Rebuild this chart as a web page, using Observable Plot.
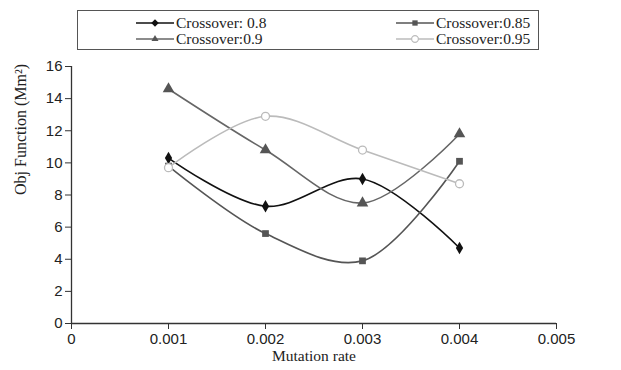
<!DOCTYPE html>
<html>
<head>
<meta charset="utf-8">
<script src="https://cdn.jsdelivr.net/npm/d3@7"></script>
<script src="https://cdn.jsdelivr.net/npm/@observablehq/plot@0.6"></script>
<style>
  body { margin: 0; background: #fff; }
  #wrap { position: relative; width: 621px; height: 370px; }
  #legend { position: absolute; left: 77px; top: 10px; width: 460px; height: 38px;
            border: 1.5px solid #555; font-family: "Liberation Serif", "Times New Roman", serif;
            font-size: 15.5px; color: #222; box-sizing: content-box; }
  .item { position: absolute; display: flex; align-items: center; height: 15px; line-height: 15px; }
  .item svg { margin-right: 2px; }
</style>
</head>
<body>
<div id="wrap">
  <div id="legend"></div>
</div>
<script>
const mutationRates = [0.001, 0.002, 0.003, 0.004];
const seriesNames = ["Crossover: 0.8", "Crossover:0.85", "Crossover:0.9", "Crossover:0.95"];
const cross080 = [10.3, 7.3, 9.0, 4.7];
const cross085 = [9.8, 5.6, 3.9, 10.1];
const cross090 = [14.6, 10.8, 7.5, 11.8];
const cross095 = [9.7, 12.9, 10.8, 8.7];
const xTicks = [0, 0.001, 0.002, 0.003, 0.004, 0.005];
const yTicks = [0, 2, 4, 6, 8, 10, 12, 14, 16];

const seriesValues = [cross080, cross085, cross090, cross095];
const styles = [
  {stroke: "#111", symbol: "diamond", fill: "#111", r: 3.8},
  {stroke: "#555", symbol: "square", fill: "#555", r: 3.8},
  {stroke: "#666", symbol: "triangle", fill: "#555", r: 4.3},
  {stroke: "#bbb", symbol: "circle", fill: "#fff", r: 4}
];

const data = [];
seriesNames.forEach((s, i) => mutationRates.forEach((m, j) => data.push({series: s, idx: i, x: m, y: seriesValues[i][j]})));

const marks = [];
seriesNames.forEach((s, i) => {
  const d = data.filter(r => r.idx === i);
  marks.push(Plot.line(d, {x: "x", y: "y", curve: "catmull-rom", stroke: styles[i].stroke, strokeWidth: 1.6}));
});
seriesNames.forEach((s, i) => {
  const d = data.filter(r => r.idx === i);
  const st = styles[i];
  marks.push(Plot.dot(d, {x: "x", y: "y", symbol: () => st.symbol, r: st.r,
    fill: st.fill, stroke: st.symbol === "circle" ? st.stroke : "none", strokeWidth: 1.3}));
});

const plot = Plot.plot({
  width: 621,
  height: 370,
  marginLeft: 71,
  marginRight: 65,
  marginTop: 66,
  marginBottom: 47,
  style: {fontFamily: "Liberation Sans, Arial, sans-serif", fontSize: "15px", color: "#222", background: "#fff"},
  x: {domain: [0, 0.005]},
  y: {domain: [0, 16]},
  marks: [
    Plot.axisX({ticks: xTicks, tickFormat: d => d === 0 ? "0" : d.toFixed(3), tickSize: 6, tickPadding: 4,
      label: null, fontSize: 15, stroke: "#333"}),
    Plot.axisY({ticks: yTicks, tickSize: 6, tickPadding: 3, label: null, fontSize: 15, stroke: "#333"}),
    Plot.ruleY([0], {stroke: "#333", strokeWidth: 1.3}),
    Plot.ruleX([0], {stroke: "#333", strokeWidth: 1.3}),
    ...marks,
    Plot.text(["Mutation rate"], {frameAnchor: "bottom", dy: 37, fontFamily: "Liberation Serif, Times New Roman, serif", fontSize: 15.5, fill: "#222"}),
    Plot.text(["Obj Function (Mm²)"], {frameAnchor: "left", rotate: -90, dx: -51, fontFamily: "Liberation Serif, Times New Roman, serif", fontSize: 16, fill: "#222"})
  ]
});
document.getElementById("wrap").appendChild(plot);

// legend
const legend = document.getElementById("legend");
const legendPos = [[58, 4], [318, 4], [58, 20], [318, 20]];
seriesNames.forEach((s, i) => {
  const st = styles[i];
  const item = document.createElement("div");
  item.className = "item";
  item.style.left = legendPos[i][0] + "px";
  item.style.top = legendPos[i][1] + "px";
  const sym = d3.symbol(
    {diamond: d3.symbolDiamond2, square: d3.symbolSquare2, triangle: d3.symbolTriangle2, circle: d3.symbolCircle}[st.symbol],
    36)();
  item.innerHTML = `<svg width="38" height="12"><line x1="0" x2="38" y1="6" y2="6" stroke="${st.stroke}" stroke-width="1.5"/>
    <path d="${sym}" transform="translate(19,6)" fill="${st.fill}" stroke="${st.symbol === 'circle' ? st.stroke : 'none'}" stroke-width="1.2"/></svg><span>${s}</span>`;
  legend.appendChild(item);
});
</script>
</body>
</html>
